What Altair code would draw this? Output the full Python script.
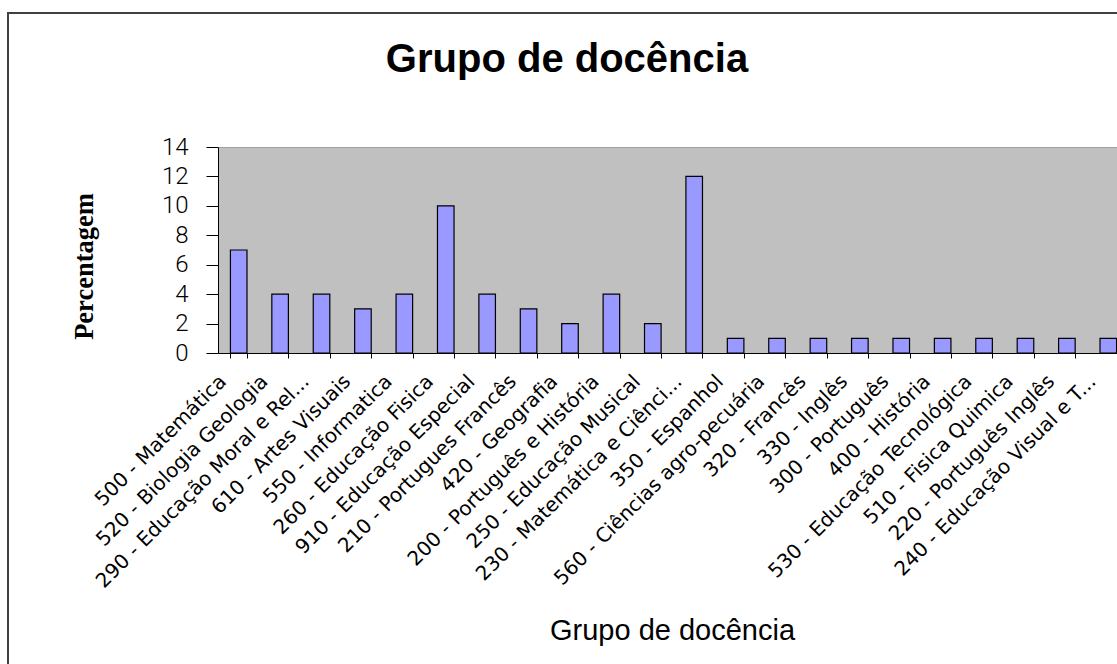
import altair as alt
import pandas as pd

categories = [
    "500 - Matemática", "520 - Biologia Geologia", "290 - Educação Moral e Rel...",
    "610 - Artes Visuais", "550 - Informatica", "260 - Educação Fisica",
    "910 - Educação Especial", "210 - Portugues Francês", "420 - Geografia",
    "200 - Português e História", "250 - Educação Musical", "230 - Matemática e Ciênci...",
    "350 - Espanhol", "560 - Ciências agro-pecuária", "320 - Francês", "330 - Inglês",
    "300 - Português", "400 - História", "530 - Educação Tecnológica",
    "510 - Fisica Quimica", "220 - Português Inglês", "240 - Educação Visual e T...",
]
values = [7, 4, 4, 3, 4, 10, 4, 3, 2, 4, 2, 12, 1, 1, 1, 1, 1, 1, 1, 1, 1, 1]
y_ticks = [0, 2, 4, 6, 8, 10, 12, 14]
chart_title = "Grupo de docência"
x_title = "Grupo de docência"
y_title = "Percentagem"

df = pd.DataFrame({"cat": categories, "val": values})

bars = alt.Chart(df).mark_bar(fill="#9999FF", stroke="black", strokeWidth=1.2).encode(
    x=alt.X(
        "cat:N", sort=categories,
        scale=alt.Scale(range=[0, 911], paddingInner=0.6, paddingOuter=0.3),
        axis=alt.Axis(
            title=x_title, labelAngle=-45, labelAlign="right", labelBaseline="middle",
            labelFont="DejaVu Sans", labelFontSize=20, labelColor="black",
            labelPadding=20, labelOffset=-16, labelOverlap=False, labelLimit=500,
            labelBound=False, labelFlush=False,
            tickBand="extent", tickSize=5, tickColor="black", domainColor="black",
            titleFont="Liberation Sans", titleFontSize=29, titleFontWeight="normal",
            titleColor="black", titleX=454, titleY=277, titleAlign="center",
            titleBaseline="middle",
        ),
    ),
    y=alt.Y(
        "val:Q", scale=alt.Scale(domain=[0, 14]),
        axis=alt.Axis(
            values=y_ticks, grid=False, tickSize=12, tickColor="black", domainColor="black",
            labelFont="Roboto", labelFontWeight=300, labelFontSize=24, labelColor="black",
            labelPadding=18, labelFlush=False, labelOverlap=False,
            title=y_title, titleFont="Liberation Serif", titleFontWeight="bold",
            titleFontSize=26.5, titleColor="black", titleAngle=-90, titleX=-134, titleY=119,
            titleAlign="center", titleBaseline="middle",
        ),
    ),
)

frame_df = pd.DataFrame({"k": [0]})
left_edge = alt.Chart(frame_df).mark_rule(color="#404040", strokeWidth=2).encode(
    x=alt.value(-210), y=alt.value(-134), y2=alt.value(530)
)
top_edge = alt.Chart(frame_df).mark_rule(color="#404040", strokeWidth=2).encode(
    x=alt.value(-211), x2=alt.value(910), y=alt.value(-134)
)

title_df = pd.DataFrame({"t": [chart_title]})
title_text = alt.Chart(title_df).mark_text(
    font="Liberation Sans", fontSize=40, fontWeight="bold", color="black",
    align="center", baseline="middle",
).encode(x=alt.value(349), y=alt.value(-87), text="t:N")

chart = alt.layer(bars, left_edge, top_edge, title_text).properties(
    width=899, height=206,
    autosize=alt.AutoSizeParams(type="none"),
    padding={"left": 218, "top": 147, "right": 0, "bottom": 311},
).configure_view(fill="#C0C0C0", stroke="#a0a0a0")

chart.save("out.html", embed_options={"renderer": "svg", "actions": False})
